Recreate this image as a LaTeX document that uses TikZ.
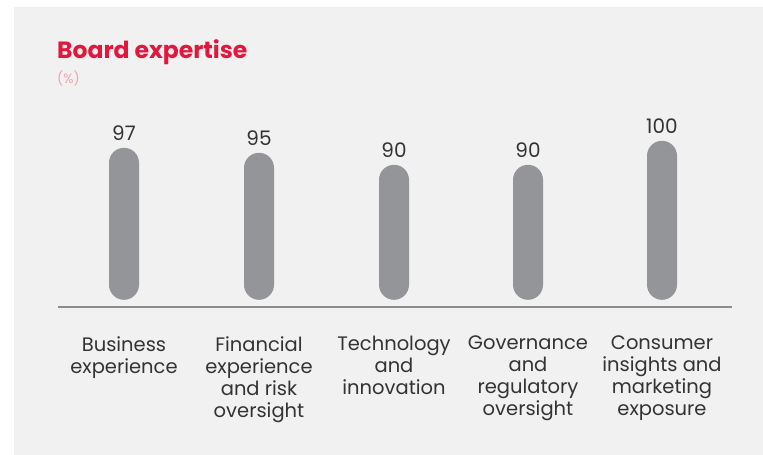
\documentclass[tikz,border=0pt]{standalone}
\usepackage{fontspec}
\setmainfont{Poppins}
\usetikzlibrary{positioning}

\definecolor{panelgray}{HTML}{F1F1F1}
\definecolor{bargray}{HTML}{939598}
\definecolor{axisgray}{HTML}{8C8C8C}
\definecolor{titlered}{HTML}{E3173E}
\definecolor{unitpink}{HTML}{F0A3AC}
\definecolor{textgray}{HTML}{333333}

\begin{document}
\begin{tikzpicture}[x=1pt,y=-1pt,
          bar/.style={fill=bargray,rectangle,rounded corners=15pt,minimum width=30pt,inner sep=0pt,anchor=south},
          value/.style={text=textgray,font=\fontsize{20}{22}\selectfont,inner sep=0pt},
          category/.style={text=textgray,font=\fontsize{19.5}{22}\selectfont,align=center,inner sep=0pt,node distance=36pt}]

                \useasboundingbox (0,0) rectangle (763,455);
                \fill[panelgray] (14,7) rectangle (763,455);

                \node (title) [anchor=base west,inner sep=0pt,text=titlered,font=\fontsize{23.5}{26}\selectfont\bfseries] at (57,58) {Board expertise};
                \node (unit) [anchor=base west,inner sep=0pt,text=unitpink,font=\fontsize{13.5}{14}\selectfont] at (57,83) {(\%)};

                \node (bar1) [bar,minimum height=152pt] at (124,300) {};
                \node (bar2) [bar,minimum height=147pt] at (259,300) {};
                \node (bar3) [bar,minimum height=135pt] at (394,300) {};
                \node (bar4) [bar,minimum height=135pt] at (528,300) {};
                \node (bar5) [bar,minimum height=159pt] at (662,300) {};

                \node (v1) [value,above = 7pt of bar1] {97};
                \node (v2) [value,above = 7pt of bar2] {95};
                \node (v3) [value,above = 7pt of bar3] {90};
                \node (v4) [value,above = 7pt of bar4] {90};
                \node (v5) [value,above = 7pt of bar5] {100};

                \coordinate (axisL) at (58,307);
                \coordinate (axisR) at (732,307);
                \draw[axisgray,line width=1.2pt] (axisL) -- (axisR);

                \node (c1) [category,below = of bar1] {Business\\experience};
                \node (c2) [category,below = of bar2] {Financial\\experience\\and risk\\oversight};
                \node (c3) [category,below = of bar3] {Technology\\and\\innovation};
                \node (c4) [category,below = of bar4] {Governance\\and\\regulatory\\oversight};
                \node (c5) [category,below = of bar5] {Consumer\\insights and\\marketing\\exposure};
              \end{tikzpicture}
\end{document}
